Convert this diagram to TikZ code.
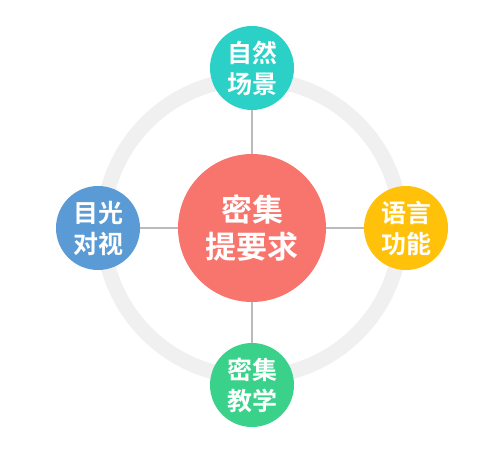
\documentclass[tikz,border=0pt]{standalone}
\usepackage{fontspec}
\newfontfamily\cjk{Noto Sans CJK SC Bold}
\definecolor{cred}{HTML}{F8756E}
\definecolor{cteal}{HTML}{2BD1C6}
\definecolor{cblue}{HTML}{5B9BD5}
\definecolor{cyellow}{HTML}{FFC10A}
\definecolor{cgreen}{HTML}{3AD28B}
\definecolor{cring}{HTML}{F0F0F0}
\definecolor{cline}{HTML}{BBBBBB}
\begin{document}
\begin{tikzpicture}[x=1pt,y=-1pt,
  bigc/.style={circle,fill=cred,minimum size=148pt,inner sep=0pt,text=white,font=\cjk\fontsize{31}{37}\selectfont,align=center},
  smallc/.style={circle,minimum size=84pt,inner sep=0pt,text=white,font=\cjk\fontsize{25}{31}\selectfont,align=center},
  conn/.style={draw=cline,line width=1.3pt}]
\useasboundingbox (0,0) rectangle (495,457);
\draw[cring,line width=15pt] (252,228) circle[radius=149];
\coordinate (c) at (252,228);
\node (t) [smallc,fill=cteal] at (252,68) {自然\\场景};
\node (l) [smallc,fill=cblue] at (98,228) {目光\\对视};
\node (r) [smallc,fill=cyellow] at (406,228) {语言\\功能};
\node (b) [smallc,fill=cgreen] at (252,385) {密集\\教学};
\draw[conn] (t) -- (b);
\draw[conn] (l) -- (r);
\node (m) [bigc] at (c) {密集\\提要求};
\end{tikzpicture}
\end{document}
